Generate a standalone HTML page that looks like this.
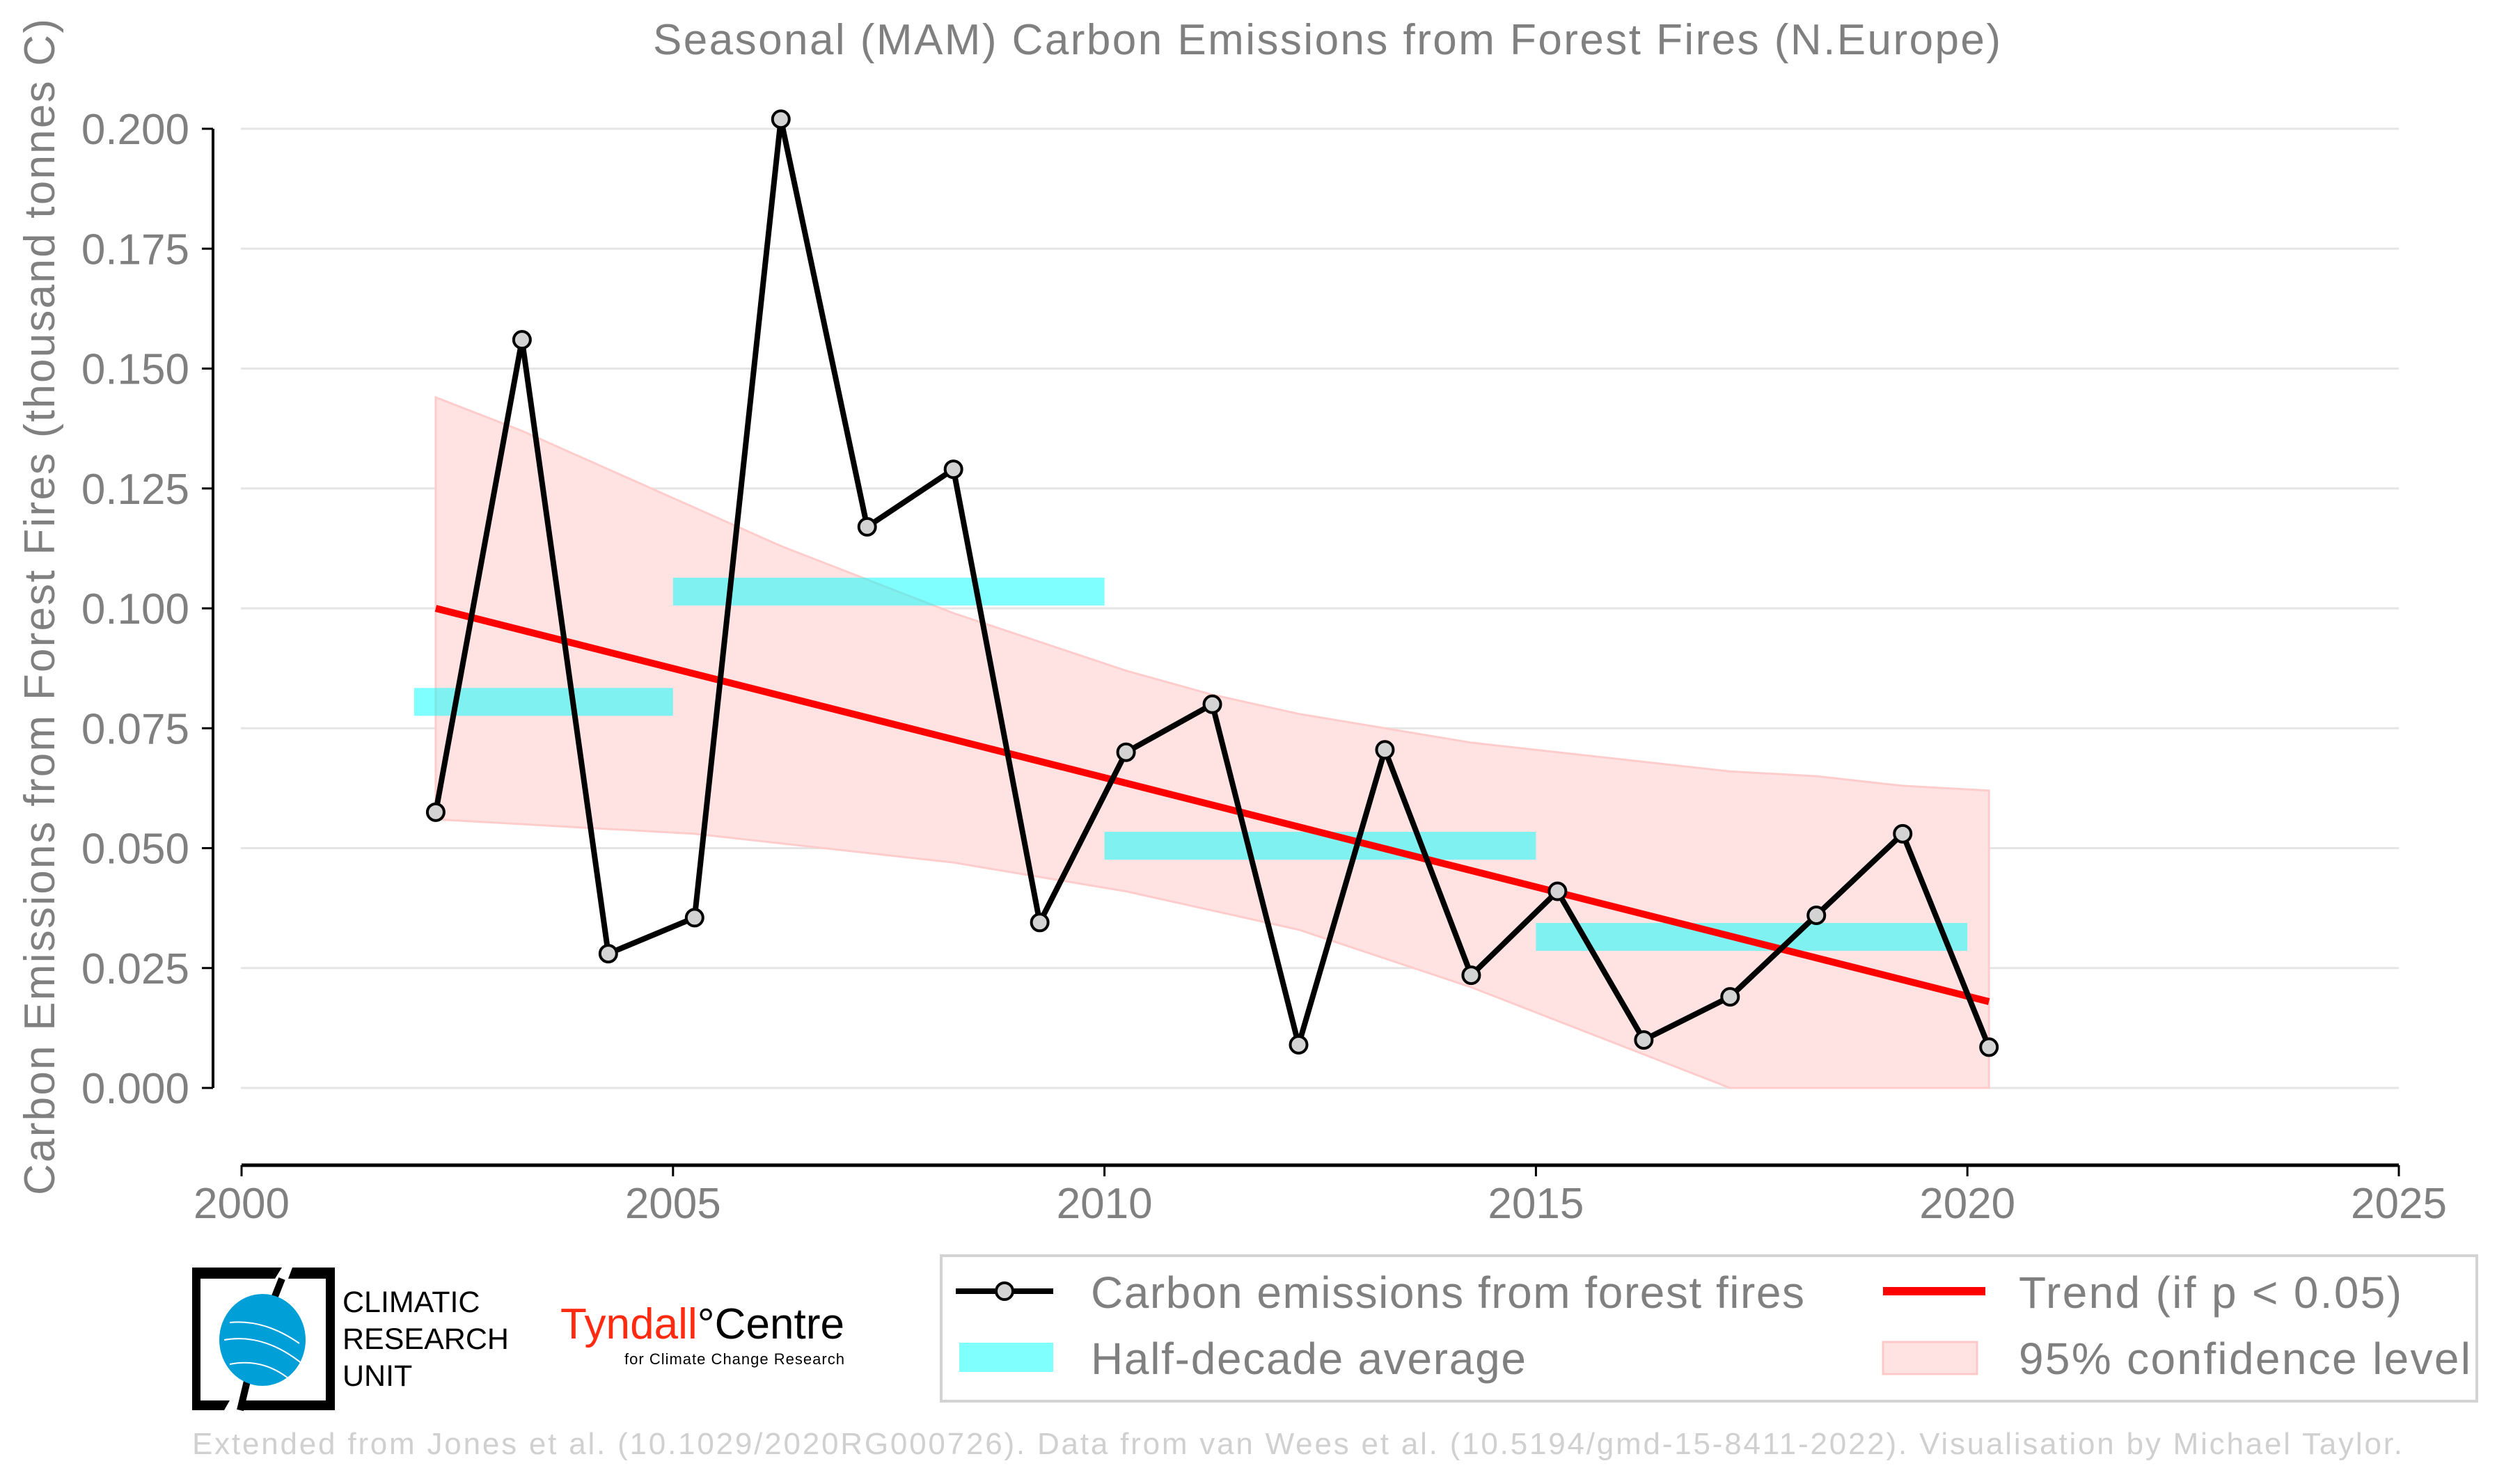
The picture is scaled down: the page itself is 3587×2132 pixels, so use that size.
<!DOCTYPE html>
<html><head><meta charset="utf-8"><style>
html,body{margin:0;padding:0;background:#fff;}
svg{display:block;font-family:"Liberation Sans",sans-serif;}
</style></head><body>
<svg id="chart" width="3587" height="2132" viewBox="0 0 3587 2132" xmlns="http://www.w3.org/2000/svg">
<text x="1906" y="78" font-size="62" fill="#808080" text-anchor="middle" textLength="1936">Seasonal (MAM) Carbon Emissions from Forest Fires (N.Europe)</text>
<text transform="translate(78,872) rotate(-90)" font-size="62" fill="#808080" text-anchor="middle" textLength="1690">Carbon Emissions from Forest Fires (thousand tonnes C)</text>
<g id="grid"></g>
<g id="band"></g>
<g id="bars"></g>
<g id="trend"></g>
<g id="series"></g>
<g id="axes"></g>

<g>
<rect x="1352" y="1804" width="2206" height="209" fill="#fff" stroke="#d3d3d3" stroke-width="4"/>
<g>
<line x1="1373" y1="1855" x2="1513" y2="1855" stroke="#000" stroke-width="8"/>
<circle cx="1443" cy="1855" r="12" fill="#d3d3d3" stroke="#000" stroke-width="4"/>
<text x="1567" y="1879" font-size="64" fill="#808080" textLength="1025">Carbon emissions from forest fires</text>
</g>
<g>
<line x1="2705" y1="1855" x2="2852" y2="1855" stroke="#ff0000" stroke-width="12"/>
<text x="2900" y="1879" font-size="64" fill="#808080" textLength="550">Trend (if p &lt; 0.05)</text>
</g>
<g>
<rect x="1378" y="1929" width="135" height="42" fill="#80ffff"/>
<text x="1567" y="1974" font-size="64" fill="#808080" textLength="625">Half-decade average</text>
</g>
<g>
<rect x="2705" y="1928" width="135" height="46" fill="#ffe3e3" stroke="#ffc8c8" stroke-width="3"/>
<text x="2900" y="1974" font-size="64" fill="#808080" textLength="649">95% confidence level</text>
</g>
</g>

<g>
<path d="M276 1821 H405 L395 1837 H288 V2012 H330 L322 2026 H276 Z" fill="#000"/>
<path d="M420 1821 H481 V2026 H345 L351 2012 H468 V1837 H414 Z" fill="#000"/>
<path d="M405 1837 L386 1885 M356 1980 L345 2026" stroke="#000" stroke-width="10"/>
<ellipse cx="377" cy="1925" rx="62" ry="66" fill="#009fd8"/>
<path d="M330 1900 Q380 1895 430 1930 M322 1925 Q380 1915 435 1960 M330 1960 Q380 1950 420 1985" stroke="#fff" stroke-width="2" fill="none"/>
<text font-size="43" fill="#000"><tspan x="492" y="1885">CLIMATIC</tspan><tspan x="492" y="1938">RESEARCH</tspan><tspan x="492" y="1991">UNIT</tspan></text>
</g>
<g>
<text x="805" y="1923" font-size="62" textLength="408"><tspan fill="#ff2a10">Tyndall</tspan><tspan fill="#000">°Centre</tspan></text>
<text x="897" y="1960" font-size="22" fill="#000" textLength="316">for Climate Change Research</text>
</g>
<text x="276" y="2089" font-size="44" fill="#d0d0d0" textLength="3175">Extended from Jones et al. (10.1029/2020RG000726). Data from van Wees et al. (10.5194/gmd-15-8411-2022). Visualisation by Michael Taylor.</text>
</svg>
<script>
const years = [2002,2003,2004,2005,2006,2007,2008,2009,2010,2011,2012,2013,2014,2015,2016,2017,2018,2019,2020];
const emissions = [0.0575,0.156,0.028,0.0355,0.202,0.117,0.129,0.0345,0.070,0.080,0.009,0.0705,0.0235,0.041,0.010,0.019,0.036,0.053,0.0085];
const ciUpper = [0.144,0.137,0.129,0.121,0.113,0.106,0.099,0.093,0.087,0.082,0.078,0.075,0.072,0.070,0.068,0.066,0.065,0.063,0.062];
const ciLower = [0.056,0.055,0.054,0.053,0.051,0.049,0.047,0.044,0.041,0.037,0.033,0.027,0.021,0.014,0.007,0.000,-0.008,-0.016,-0.024];
const trendStart = 0.100;
const trendEnd = 0.018;
const halfStarts = [2002,2005,2010,2015];
const halfEnds = [2005,2010,2015,2020];
const halfValues = [0.0805,0.1035,0.0505,0.0315];
const yTicks = [0,0.025,0.05,0.075,0.1,0.125,0.15,0.175,0.2];
const yTickLabels = ["0.000","0.025","0.050","0.075","0.100","0.125","0.150","0.175","0.200"];
const xTicks = [2000,2005,2010,2015,2020,2025];

const NS = "http://www.w3.org/2000/svg";
const X = v => 347 + (v - 2000) * (3446 - 347) / 25;
const Y = v => 1563 - v * (1563 - 185) / 0.2;
const off = 0.25;
function mk(tag, attrs, parent) {
  const e = document.createElementNS(NS, tag);
  for (const k in attrs) e.setAttribute(k, attrs[k]);
  document.getElementById(parent).appendChild(e);
  return e;
}
yTicks.forEach((t, i) => {
  const g = mk('line', {x1: 346, x2: 3446, y1: Y(t), y2: Y(t), stroke: '#e5e5e5', 'stroke-width': 3}, 'grid');
  
  
});
let pts = [];
years.forEach((y, i) => pts.push(X(y + off) + ',' + Y(Math.max(0, ciUpper[i]))));
for (let i = years.length - 1; i >= 0; i--) pts.push(X(years[i] + off) + ',' + Y(Math.max(0, ciLower[i])));
const band = mk('polygon', {points: pts.join(' '), fill: '#ffe3e3', stroke: '#ffcccc', 'stroke-width': 3}, 'band');


halfValues.forEach((v, i) => {
  const r = mk('rect', {x: X(halfStarts[i]), y: Y(v) - 20, width: X(halfEnds[i]) - X(halfStarts[i]), height: 40, fill: '#00ffff', opacity: 0.5}, 'bars');
  
  
});
const tr = mk('line', {x1: X(years[0] + off), y1: Y(trendStart), x2: X(years[years.length - 1] + off), y2: Y(trendEnd), stroke: '#ff0000', 'stroke-width': 10}, 'trend');


const line = mk('polyline', {points: years.map((y, i) => X(y + off) + ',' + Y(emissions[i])).join(' '), fill: 'none', stroke: '#000', 'stroke-width': 8, 'stroke-linejoin': 'round'}, 'series');


years.forEach((y, i) => {
  const c = mk('circle', {cx: X(y + off), cy: Y(emissions[i]), r: 12, fill: '#d3d3d3', stroke: '#000', 'stroke-width': 4}, 'series');
  
  
});
const ya = mk('line', {x1: 306, x2: 306, y1: 185, y2: 1563, stroke: '#000', 'stroke-width': 4}, 'axes');


yTicks.forEach((t, i) => {
  mk('line', {x1: 290, x2: 306, y1: Y(t), y2: Y(t), stroke: '#000', 'stroke-width': 3}, 'axes');
  const tx = mk('text', {x: 272, y: Y(t) + 22, 'font-size': 62, fill: '#808080', 'text-anchor': 'end'}, 'axes');
  tx.textContent = yTickLabels[i];
  
  
});
const xa = mk('line', {x1: 347, x2: 3446, y1: 1674, y2: 1674, stroke: '#000', 'stroke-width': 5}, 'axes');


xTicks.forEach(t => {
  mk('line', {x1: X(t), x2: X(t), y1: 1674, y2: 1690, stroke: '#000', 'stroke-width': 3}, 'axes');
  const tx = mk('text', {x: X(t), y: 1750, 'font-size': 62, fill: '#808080', 'text-anchor': 'middle'}, 'axes');
  tx.textContent = t;
  
  
});
</script>
</body></html>
